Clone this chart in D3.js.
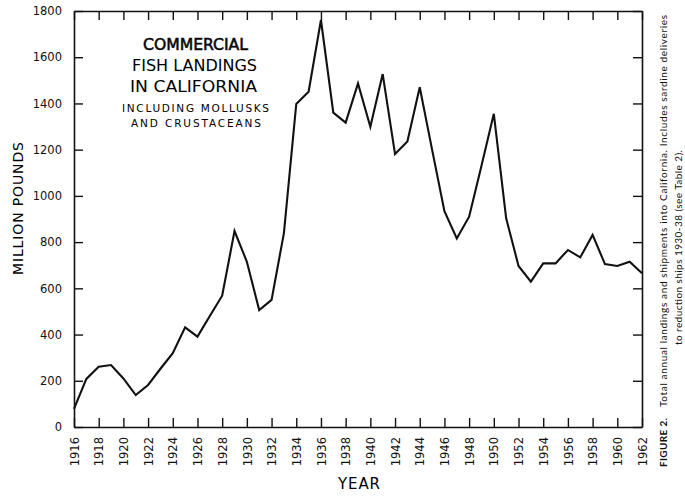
<!DOCTYPE html>
<html>
<head>
<meta charset="utf-8">
<script src="https://cdn.jsdelivr.net/npm/d3@7"></script>
<style>
  body { margin: 0; background: #fff; }
  svg { display: block; }
  .axis path, .axis line { stroke: #111; }
  .axis text { font-family: "DejaVu Sans", sans-serif; fill: #111; }
</style>
</head>
<body>
<svg id="chart" width="685" height="498"></svg>
<script>
// data (million pounds)
const years = d3.range(1916, 1963);
const landings = [78, 208, 261, 268, 210, 138, 182, 252, 319, 431, 391, 480, 568, 848, 715, 506, 550, 839,
  1398, 1451, 1761, 1360, 1317, 1487, 1299, 1527, 1181, 1235, 1470, 1200, 934, 816, 910, 1130, 1355, 903,
  697, 629, 708, 708, 766, 734, 831, 705, 697, 715, 665];
const yTicks = [0, 200, 400, 600, 800, 1000, 1200, 1400, 1600, 1800];
const xTicks = d3.range(1916, 1963, 2);
const titleLines = ["COMMERCIAL", "FISH LANDINGS", "IN CALIFORNIA"];
const subLines = ["INCLUDING MOLLUSKS", "AND CRUSTACEANS"];

const svg = d3.select('#chart');
const pLeft = 74, pRight = 642, pTop = 11, pBottom = 427;
const x = d3.scaleLinear().domain([1916, 1962]).range([pLeft, pRight]);
const y = d3.scaleLinear().domain([0, 1800]).range([pBottom, pTop]);

// frame + inward ticks
const xb = svg.append('g').attr('class', 'axis').attr('transform', `translate(0,${pBottom})`)
  .call(d3.axisBottom(x).tickValues(xTicks).tickSizeInner(-9).tickSizeOuter(0).tickFormat(d3.format('d')));
xb.selectAll('text').attr('transform', 'rotate(-90)').attr('text-anchor', 'end')
  .attr('x', -10).attr('y', 0).attr('dy', '0.36em').style('font-size', '11.5px');
svg.append('g').attr('class', 'axis').attr('transform', `translate(0,${pTop})`)
  .call(d3.axisTop(x).tickValues(xTicks).tickSizeInner(-9).tickSizeOuter(0).tickFormat(''));
svg.append('g').attr('class', 'axis').attr('transform', `translate(${pLeft},0)`)
  .call(d3.axisLeft(y).tickValues(yTicks).tickSizeInner(-9).tickSizeOuter(0).tickPadding(12).tickFormat(d3.format('d')))
  .selectAll('text').style('font-size', '11.5px');
svg.append('g').attr('class', 'axis').attr('transform', `translate(${pRight},0)`)
  .call(d3.axisRight(y).tickValues(yTicks).tickSizeInner(-9).tickSizeOuter(0).tickFormat(''));
svg.selectAll('.axis path').attr('stroke-width', 1.6);
svg.selectAll('.axis line').attr('stroke-width', 1.4);

// the series
const line = d3.line().x((d, i) => x(years[i])).y(d => y(d));
svg.append('path').datum(landings).attr('d', line)
  .attr('fill', 'none').attr('stroke', '#111').attr('stroke-width', 2.1).attr('stroke-linejoin', 'miter');

// labels
const font = '"DejaVu Sans", sans-serif';
svg.append('text').attr('transform', 'translate(23,208.5) rotate(-90)').attr('text-anchor', 'middle')
  .attr('textLength', 133).attr('lengthAdjust', 'spacing')
  .style('font-family', font).style('font-size', '14px').text('MILLION POUNDS');
svg.append('text').attr('x', 338).attr('y', 489).attr('textLength', 42).attr('lengthAdjust', 'spacing')
  .style('font-family', font).style('font-size', '15px').text('YEAR');

const tPos = [[143, 105, 50, 0.6], [132, 125, 71, 0], [130, 127, 92, 0]];
titleLines.forEach((t, i) => svg.append('text').attr('x', tPos[i][0]).attr('y', tPos[i][2])
  .attr('textLength', tPos[i][1]).attr('lengthAdjust', 'spacingAndGlyphs')
  .attr('stroke', '#111').attr('stroke-width', tPos[i][3])
  .style('font-family', font).style('font-size', '16px').text(t));
const sPos = [[122, 147, 111.5], [131, 130, 126.5]];
subLines.forEach((t, i) => svg.append('text').attr('x', sPos[i][0]).attr('y', sPos[i][2])
  .attr('textLength', sPos[i][1]).attr('lengthAdjust', 'spacing')
  .style('font-family', font).style('font-size', '10.5px').text(t));

// caption on the right, rotated
const cap = svg.append('g').style('font-family', 'Lato, "Open Sans", sans-serif').style('font-size', '10px').style('fill', '#111');
cap.append('text').attr('transform', 'translate(667,467) rotate(-90)').attr('textLength', 49).attr('lengthAdjust', 'spacing')
  .style('font-weight', 'bold').text('FIGURE 2.');
cap.append('text').attr('transform', 'translate(667,407) rotate(-90)').attr('textLength', 392).attr('lengthAdjust', 'spacing')
  .text('Total annual landings and shipments into California. Includes sardine deliveries');
cap.append('text').attr('transform', 'translate(682,345) rotate(-90)').attr('textLength', 195).attr('lengthAdjust', 'spacing')
  .text('to reduction ships 1930-38 (see Table 2).');
</script>
</body>
</html>
